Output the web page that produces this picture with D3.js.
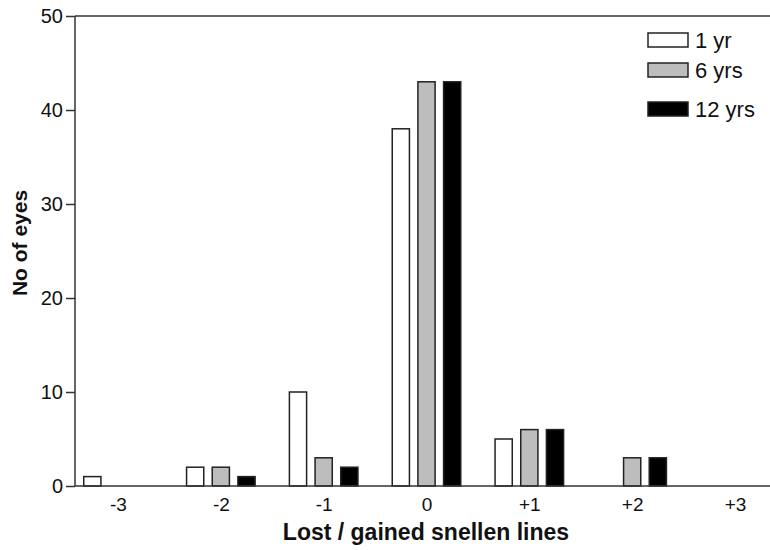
<!DOCTYPE html>
<html>
<head>
<meta charset="utf-8">
<script src="https://cdn.jsdelivr.net/npm/d3@7"></script>
<style>
  body { margin: 0; background: #fff; }
  svg { font-family: "Liberation Sans", Arial, sans-serif; }
</style>
</head>
<body>
<svg id="chart" width="770" height="550"></svg>
<script>
// categories (lines lost / gained) and series
var categories = ['-3', '-2', '-1', '0', '+1', '+2', '+3'];
var seriesNames = ['1 yr', '6 yrs', '12 yrs'];
var oneYear = [1, 2, 10, 38, 5, 0, 0];
var sixYears = [0, 2, 3, 43, 6, 3, 0];
var twelveYears = [0, 1, 2, 43, 6, 3, 0];
var yTicks = [0, 10, 20, 30, 40, 50];
var fills = ['#ffffff', '#bdbdbd', '#000000'];

var svg = d3.select("#chart");
var plotLeft = 75, plotRight = 772, plotTop = 16, plotBottom = 486;

var x = d3.scalePoint().domain(categories).range([118, 735]);
var xs = d3.scaleBand().domain(seriesNames).range([-38.5, 38.5]).paddingInner(0.33).paddingOuter(0.165);
var y = d3.scaleLinear().domain([0, 50]).range([plotBottom, plotTop]);

// build rows for each bar
var values = [oneYear, sixYears, twelveYears];
var bars = [];
seriesNames.forEach(function (s, i) {
    categories.forEach(function (c, j) {
        if (values[i][j] > 0) bars.push({ cat: c, series: s, idx: i, value: values[i][j] });
    });
});

// top border of the frame
svg.append("line").attr("x1", plotLeft).attr("x2", plotRight).attr("y1", plotTop).attr("y2", plotTop)
    .attr("stroke", "#333").attr("stroke-width", 1.5);

// bars
svg.selectAll("rect.bar").data(bars).enter().append("rect")
    .attr("class", "bar")
    .attr("x", function (d) { return x(d.cat) + xs(d.series); })
    .attr("width", xs.bandwidth())
    .attr("y", function (d) { return y(d.value); })
    .attr("height", function (d) { return y(0) - y(d.value); })
    .attr("fill", function (d) { return fills[d.idx]; })
    .attr("stroke", "#222")
    .attr("stroke-width", 1.5);

// y axis
var yAxis = svg.append("g").attr("transform", `translate(${plotLeft},0)`)
    .call(d3.axisLeft(y).tickValues(yTicks).tickSize(9).tickPadding(3));
yAxis.attr("font-size", 20).attr("font-family", "Liberation Sans, Arial, sans-serif");
yAxis.select(".domain").attr("stroke", "#333").attr("stroke-width", 1.5).attr("d", `M0,${plotTop}V${plotBottom}`);
yAxis.selectAll(".tick line").attr("stroke", "#333").attr("stroke-width", 1.5);
yAxis.selectAll(".tick text").attr("fill", "#111");

// x axis (no tick marks)
var xAxis = svg.append("g").attr("transform", `translate(0,${plotBottom})`)
    .call(d3.axisBottom(x).tickSize(0).tickPadding(12));
xAxis.attr("font-size", 19).attr("font-family", "Liberation Sans, Arial, sans-serif");
xAxis.select(".domain").attr("stroke", "#333").attr("stroke-width", 1.5).attr("d", `M${plotLeft},0H${plotRight}`);
xAxis.selectAll(".tick text").attr("fill", "#111");

// axis titles
svg.append("text").attr("x", 426).attr("y", 540).attr("text-anchor", "middle")
    .attr("font-size", 23).attr("font-weight", "bold").attr("fill", "#111")
    .text("Lost / gained snellen lines");
svg.append("text").attr("transform", "translate(27,243) rotate(-90)").attr("text-anchor", "middle")
    .attr("font-size", 21).attr("font-weight", "bold").attr("fill", "#111")
    .text("No of eyes");

// legend
var legendY = [33, 63, 102];
var legend = svg.selectAll("g.legend").data(seriesNames).enter().append("g")
    .attr("class", "legend")
    .attr("transform", function (d, i) { return `translate(648,${legendY[i]})`; });
legend.append("rect").attr("width", 40).attr("height", 14)
    .attr("fill", function (d, i) { return fills[i]; })
    .attr("stroke", "#222").attr("stroke-width", 1.5);
legend.append("text").attr("x", 47).attr("y", 14.5).attr("font-size", 22).attr("fill", "#111")
    .text(function (d) { return d; });
</script>
</body>
</html>
